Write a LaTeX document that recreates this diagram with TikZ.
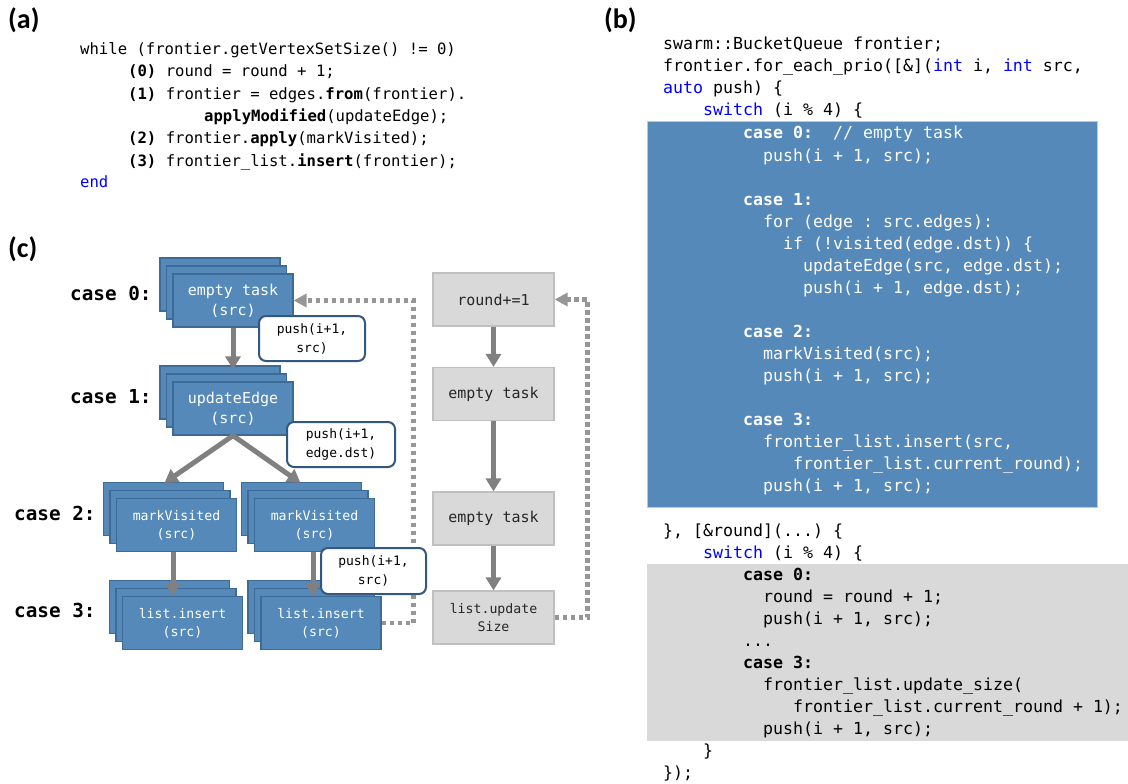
\documentclass[tikz,border=0pt]{standalone}
\usepackage{fontspec}
\setmainfont{Carlito}
\setmonofont{DejaVu Sans Mono}
\usetikzlibrary{arrows.meta,shadows,calc}
\definecolor{blueF}{RGB}{84,137,186}
\definecolor{blueD}{RGB}{62,106,150}
\definecolor{pushD}{RGB}{50,88,128}
\definecolor{grayF}{RGB}{217,217,217}
\definecolor{grayD}{RGB}{192,192,192}
\definecolor{arrG}{RGB}{128,128,128}
\definecolor{dotG}{RGB}{150,150,150}
\definecolor{kw}{RGB}{0,0,255}
\tikzset{
  panel/.style={anchor=base west, inner sep=0, font=\bfseries\fontsize{28}{30}\selectfont},
  ca/.style={anchor=base west, inner sep=0, font=\ttfamily\fontsize{15.6}{18}\selectfont},
  cb/.style={anchor=base west, inner sep=0, font=\ttfamily\fontsize{16.6}{20}\selectfont},
  cbw/.style={cb, text=white},
  caselbl/.style={anchor=base west, inner sep=0, font=\ttfamily\bfseries\fontsize{19.3}{22}\selectfont},
  task/.style={rectangle, minimum width=120pt, minimum height=53pt, inner sep=0,
    align=center, fill=blueF, draw=blueD, line width=1.2pt, text=white,
    font=\ttfamily\fontsize{15}{20}\selectfont,
    general shadow={shadow xshift=-13pt, shadow yshift=16pt, fill=blueF, draw=blueD, line width=1.2pt},
    general shadow={shadow xshift=-6.5pt, shadow yshift=8pt, fill=blueF, draw=blueD, line width=1.2pt}},
  smalltxt/.style={font=\ttfamily\fontsize{13.2}{18}\selectfont},
  gtask/.style={rectangle, minimum width=121pt, minimum height=53pt, inner sep=0,
    align=center, fill=grayF, draw=grayD, line width=1.2pt, text=black!85,
    font=\ttfamily\fontsize{15}{20}\selectfont},
  pushbox/.style={rectangle, rounded corners=7pt, minimum width=106pt, minimum height=45pt,
    inner sep=0, align=center, fill=white, draw=pushD, line width=2pt,
    font=\ttfamily\fontsize{13}{19}\selectfont},
  arr/.style={draw=arrG, line width=5pt, -{Triangle[length=13pt,width=15pt]}},
  backflow/.style={draw=dotG, line width=4.5pt, dash pattern=on 4.5pt off 3.5pt,
    -{Triangle[length=13pt,width=13pt]}},
}
\begin{document}
\begin{tikzpicture}[x=1pt,y=-1pt]
\useasboundingbox (0,0) rectangle (1128,784);

% panel letters
\node[panel] (la) at (8,29) {(a)};
\node[panel] (lb) at (604,29) {(b)};
\node[panel] (lc) at (8,257) {(c)};

% (a) high-level loop
\node[ca] (a1) at (80,55) {while (frontier.getVertexSetSize() != 0)};
\node[ca] (a2) at (128,77) {\textbf{(0)} round = round + 1;};
\node[ca] (a3) at (128,99.5) {\textbf{(1)} frontier = edges.\textbf{from}(frontier).};
\node[ca] (a4) at (204,121.5) {\textbf{applyModified}(updateEdge);};
\node[ca] (a5) at (128,143.5) {\textbf{(2)} frontier.\textbf{apply}(markVisited);};
\node[ca] (a6) at (128,166) {\textbf{(3)} frontier\_list.\textbf{insert}(frontier);};
\node[ca, text=kw] (a7) at (80,187) {end};

% (b) code, highlighted blocks
\fill[blueF] (647,121) rectangle (1097,507);
\draw[gray!45, line width=0.8pt] (647,121) rectangle (1097,507);
\fill[grayF] (647,564) rectangle (1128,741);

\node[cb] (bt1) at (663,50) {swarm::BucketQueue frontier;};
\node[cb] (bt2) at (663,72) {frontier.for\_each\_prio([\&](\textcolor{kw}{int} i, \textcolor{kw}{int} src,};
\node[cb] (bt3) at (663,94) {\textcolor{kw}{auto} push) \{};
\node[cb] (bt4) at (703,116) {\textcolor{kw}{switch} (i \% 4) \{};

\node[cbw] (bb1) at (743,139) {\textbf{case 0:}\ \ // empty task};
\node[cbw] (bb2) at (763,161) {push(i + 1, src);};
\node[cbw] (bb3) at (743,205) {\textbf{case 1:}};
\node[cbw] (bb4) at (763,227) {for (edge : src.edges):};
\node[cbw] (bb5) at (783,249) {if (!visited(edge.dst)) \{};
\node[cbw] (bb6) at (803,271) {updateEdge(src, edge.dst);};
\node[cbw] (bb7) at (803,293) {push(i + 1, edge.dst);};
\node[cbw] (bb8) at (743,337) {\textbf{case 2:}};
\node[cbw] (bb9) at (763,359) {markVisited(src);};
\node[cbw] (bb10) at (763,381) {push(i + 1, src);};
\node[cbw] (bb11) at (743,425) {\textbf{case 3:}};
\node[cbw] (bb12) at (763,447) {frontier\_list.insert(src,};
\node[cbw] (bb13) at (793,469) {frontier\_list.current\_round);};
\node[cbw] (bb14) at (763,491) {push(i + 1, src);};

\node[cb] (bc1) at (663,536) {\}, [\&round](...) \{};
\node[cb] (bc2) at (703,558) {\textcolor{kw}{switch} (i \% 4) \{};
\node[cb] (bc3) at (743,580) {\textbf{case 0:}};
\node[cb] (bc4) at (763,602) {round = round + 1;};
\node[cb] (bc5) at (763,624) {push(i + 1, src);};
\node[cb] (bc6) at (743,646) {...};
\node[cb] (bc7) at (743,668) {\textbf{case 3:}};
\node[cb] (bc8) at (763,690) {frontier\_list.update\_size(};
\node[cb] (bc9) at (793,712) {frontier\_list.current\_round + 1);};
\node[cb] (bc10) at (763,734) {push(i + 1, src);};
\node[cb] (bc11) at (703,756) {\}};
\node[cb] (bc12) at (663,778) {\});};

% (c) task graph
\node[caselbl] (k0) at (70,300) {case 0:};
\node[caselbl] (k1) at (70,403) {case 1:};
\node[caselbl] (k2) at (14,520) {case 2:};
\node[caselbl] (k3) at (14,617) {case 3:};

\node[task] (E0) at (233,300.5) {empty task\\(src)};
\node[task] (U) at (233,408.5) {updateEdge\\(src)};
\node[task, smalltxt] (M1) at (176.5,525) {markVisited\\(src)};
\node[task, smalltxt] (M2) at (314.5,525) {markVisited\\(src)};
\node[task, smalltxt] (L1) at (182.5,623) {list.insert\\(src)};
\node[task, smalltxt] (L2) at (321,623) {list.insert\\(src)};

\node[gtask] (R) at (493.5,299.5) {round+=1};
\node[gtask] (T1) at (493.5,394) {empty task};
\node[gtask] (T2) at (493.5,518.5) {empty task};
\node[gtask, smalltxt] (S) at (493.5,617.5) {list.update\\Size};

\draw[arr] (E0.south) -- ([yshift=12pt]U.north);
\draw[arr, {Triangle[length=13pt,width=15pt]}-{Triangle[length=13pt,width=15pt]}]
  ([xshift=-12pt,yshift=15pt]M1.north) -- (U.south) -- ([xshift=-14pt,yshift=15pt]M2.north);
\draw[arr] ([xshift=-3.5pt]M1.south) -- ([xshift=-9.5pt]L1.north);
\draw[arr] ([xshift=-1.5pt]M2.south) -- ([xshift=-8pt]L2.north);

\draw[arr] (R.south) -- (T1.north);
\draw[arr] (T1.south) -- (T2.north);
\draw[arr] (T2.south) -- (S.north);

\draw[backflow] (L2.east) -- ++(32,0) |- (E0.east);
\draw[backflow] (S.east) -- ++(33,0) |- (R.east);

\node[pushbox] (P1) at (312,338.5) {push(i+1,\\src)};
\node[pushbox, minimum width=108pt] (P2) at (341,444.5) {push(i+1,\\edge.dst)};
\node[pushbox, minimum width=105pt, minimum height=46pt] (P3) at (373.5,571) {push(i+1,\\src)};
\end{tikzpicture}
\end{document}
